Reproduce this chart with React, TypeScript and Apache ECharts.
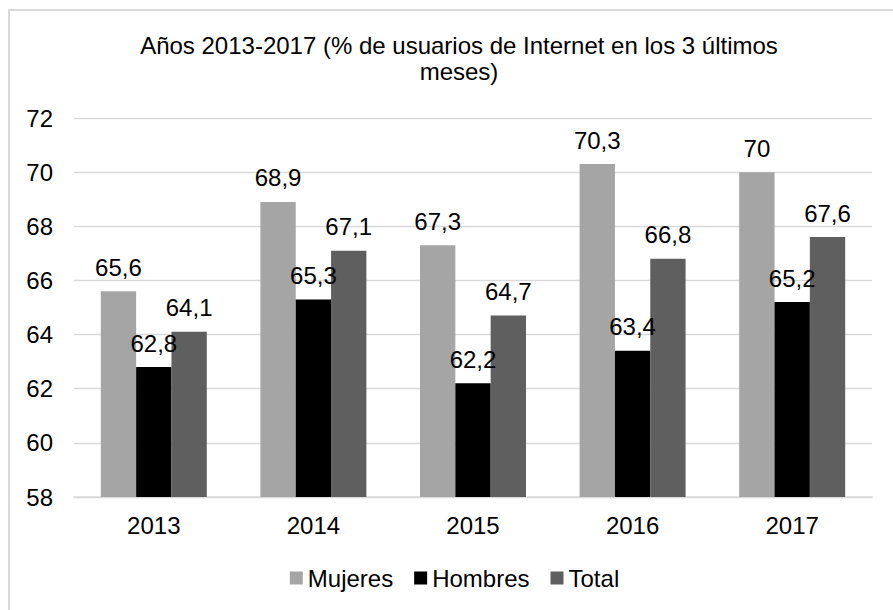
import React, { useEffect, useRef } from "react";
import * as echarts from "echarts";

const categories = ["2013", "2014", "2015", "2016", "2017"];
const mujeres = [65.6, 68.9, 67.3, 70.3, 70];
const hombres = [62.8, 65.3, 62.2, 63.4, 65.2];
const total = [64.1, 67.1, 64.7, 66.8, 67.6];
const seriesNames = ["Mujeres", "Hombres", "Total"];
const seriesColors = ["#A5A5A5", "#000000", "#5F5F5F"];
const titleText = "Años 2013-2017 (% de usuarios de Internet en los 3 últimos\nmeses)";

const FONT = "'Liberation Sans', Arial, sans-serif";
const FS = 24;

export default function App() {
  const ref = useRef<HTMLDivElement>(null);
  useEffect(() => {
    if (!ref.current) return;
    const chart = echarts.init(ref.current, undefined, { renderer: "svg" });
    const fmt = (p: any) => String(p.value).replace(".", ",");
    const dataSets = [mujeres, hombres, total];
    chart.setOption({
      animation: false,
      backgroundColor: "#ffffff",
      textStyle: { fontFamily: FONT },
      title: {
        text: titleText,
        left: 444,
        top: 16,
        textAlign: "center",
        textStyle: {
          fontFamily: FONT,
          fontSize: FS,
          fontWeight: "normal",
          color: "#000",
          lineHeight: 26,
        },
      },
      legend: {
        data: seriesNames,
        left: "center",
        top: 550,
        icon: "rect",
        itemWidth: 13,
        itemHeight: 13,
        itemGap: 21,
        textStyle: { fontFamily: FONT, fontSize: FS, color: "#000" },
      },
      grid: { left: 64, right: 27, top: 107, bottom: 114, containLabel: false },
      xAxis: {
        type: "category",
        data: categories,
        axisLine: { show: true, lineStyle: { color: "#D9D9D9", width: 1.5 } },
        axisTick: { show: false },
        axisLabel: { fontFamily: FONT, fontSize: FS, color: "#000", margin: 16 },
      },
      yAxis: {
        type: "value",
        min: 58,
        max: 72,
        interval: 2,
        axisLine: { show: false },
        axisTick: { show: false },
        splitLine: { show: true, lineStyle: { color: "#D9D9D9", width: 1.3 } },
        axisLabel: { fontFamily: FONT, fontSize: FS, color: "#000", margin: 21 },
      },
      series: seriesNames.map((name, i) => ({
        name,
        type: "bar",
        data: dataSets[i],
        barGap: "0%",
        barCategoryGap: "33.6%",
        itemStyle: { color: seriesColors[i] },
        label: {
          show: true,
          position: "top",
          distance: 12,
          formatter: fmt,
          fontFamily: FONT,
          fontSize: FS,
          color: "#000",
        },
      })),
    });
    return () => chart.dispose();
  }, []);
  return (
    <div
      style={{
        position: "absolute",
        left: 8,
        top: 9,
        width: 889,
        height: 600,
        border: "2px solid #D9D9D9",
        background: "#fff",
      }}
    >
      <div ref={ref} style={{ width: 889, height: 600 }} />
    </div>
  );
}
